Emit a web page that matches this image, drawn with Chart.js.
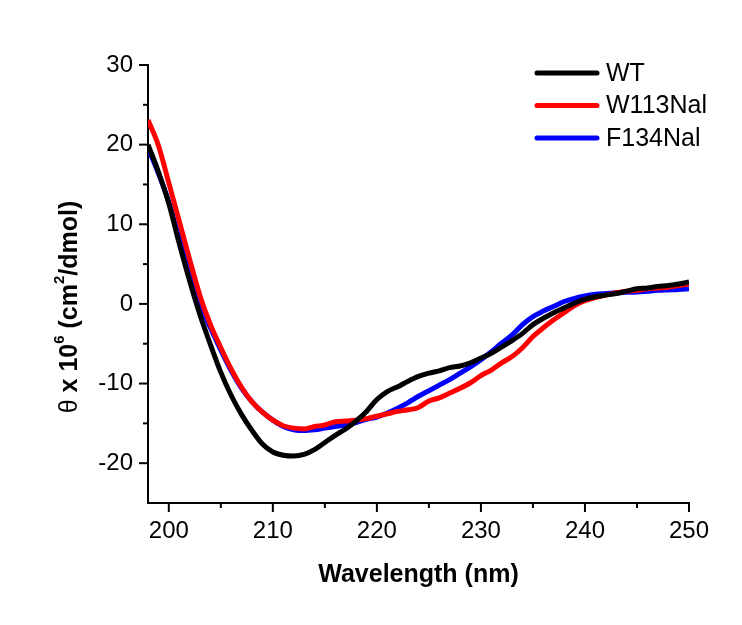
<!DOCTYPE html>
<html>
<head>
<meta charset="utf-8">
<script src="https://cdn.jsdelivr.net/npm/chart.js@4.4.1/dist/chart.umd.min.js"></script>
<style>
  body { margin: 0; background: #fff; }
  #wrap { width: 742px; height: 625px; }
</style>
</head>
<body>
<div id="wrap"><canvas id="grafica" width="742" height="625"></canvas></div>
<script>
// wavelength in nm, 1 nm steps
let wavelength = [];
for (let w = 198; w <= 250; w++) wavelength.push(w);

let seriesNames = ['WT', 'W113Nal', 'F134Nal'];

let wt = [20.0, 16.6, 12.6, 7.6, 2.9, -1.4, -5.1, -8.6, -11.5, -13.9,
  -15.9, -17.6, -18.6, -19.0, -19.1, -18.9, -18.3, -17.4, -16.5, -15.7,
  -14.7, -13.5, -12.0, -11.0, -10.4, -9.7, -9.1, -8.7, -8.4, -8.0,
  -7.8, -7.4, -6.8, -6.2, -5.4, -4.6, -3.7, -2.6, -1.8, -1.1,
  -0.5, 0.1, 0.6, 0.9, 1.1, 1.3, 1.6, 1.9, 2.0, 2.2,
  2.3, 2.5, 2.75];

let w113 = [23.1, 19.9, 15.2, 10.4, 5.6, 1.0, -2.6, -5.5, -8.2, -10.5,
  -12.3, -13.6, -14.6, -15.3, -15.6, -15.7, -15.4, -15.2, -14.8, -14.7,
  -14.6, -14.4, -14.1, -13.8, -13.5, -13.3, -13.0, -12.2, -11.8, -11.2,
  -10.6, -9.9, -9.0, -8.3, -7.4, -6.6, -5.5, -4.1, -3.0, -2.0,
  -1.1, -0.2, 0.4, 0.8, 1.1, 1.4, 1.6, 1.7, 1.9, 2.0,
  2.1, 2.3, 2.5];

let f134 = [19.6, 16.4, 12.8, 8.2, 3.9, 0.0, -3.0, -5.8, -8.4, -10.6,
  -12.3, -13.6, -14.6, -15.4, -15.8, -15.9, -15.8, -15.6, -15.4, -15.2,
  -14.9, -14.5, -14.2, -13.7, -13.1, -12.4, -11.6, -10.9, -10.2, -9.5,
  -8.7, -7.9, -7.0, -6.0, -4.9, -3.9, -2.6, -1.6, -0.9, -0.3,
  0.3, 0.7, 1.0, 1.2, 1.3, 1.4, 1.45, 1.5, 1.6, 1.7,
  1.75, 1.8, 1.9];

let xTicks = [200, 210, 220, 230, 240, 250];
let yTicks = [-20, -10, 0, 10, 20, 30];

let colores = ['#000000', '#ff0000', '#0000ff'];
let fuente = '"Liberation Sans", Arial, sans-serif';

function puntos(valores) {
  return wavelength.map((w, i) => ({ x: w, y: valores[i] }));
}

// major + minor ticks drawn outward from the axes
const marcas = {
  id: 'marcas',
  afterDraw(chart) {
    const ctx = chart.ctx;
    const xs = chart.scales.x, ys = chart.scales.y;
    ctx.save();
    ctx.strokeStyle = '#000';
    ctx.lineWidth = 2;
    const xv = xs.ticks.map(t => t.value);
    xv.forEach((v, i) => {
      let px = xs.getPixelForValue(v);
      ctx.beginPath(); ctx.moveTo(px, xs.top); ctx.lineTo(px, xs.top + 9); ctx.stroke();
      if (i < xv.length - 1) {
        px = xs.getPixelForValue((v + xv[i + 1]) / 2);
        ctx.beginPath(); ctx.moveTo(px, xs.top); ctx.lineTo(px, xs.top + 5); ctx.stroke();
      }
    });
    const yv = ys.ticks.map(t => t.value);
    yv.forEach((v, i) => {
      let py = ys.getPixelForValue(v);
      ctx.beginPath(); ctx.moveTo(ys.right, py); ctx.lineTo(ys.right - 9, py); ctx.stroke();
      if (i < yv.length - 1) {
        py = ys.getPixelForValue((v + yv[i + 1]) / 2);
        ctx.beginPath(); ctx.moveTo(ys.right, py); ctx.lineTo(ys.right - 5, py); ctx.stroke();
      }
    });
    ctx.restore();
  }
};

// y axis title with superscripts
const tituloY = {
  id: 'tituloY',
  afterDraw(chart) {
    const ctx = chart.ctx;
    const partes = [
      ['\u03b8', 25, 0, ''], [' x 10', 25, 0, 'bold '], ['6', 15, -10, 'bold '],
      [' (cm', 25, 0, 'bold '], ['2', 15, -10, 'bold '], ['/dmol)', 25, 0, 'bold ']
    ];
    ctx.save();
    ctx.translate(70, 307);
    ctx.rotate(-Math.PI / 2);
    ctx.fillStyle = '#000';
    ctx.textBaseline = 'middle';
    let total = 0;
    partes.forEach(p => { ctx.font = p[3] + p[1] + 'px ' + fuente; total += ctx.measureText(p[0]).width; });
    let x = -total / 2;
    partes.forEach(p => {
      ctx.font = p[3] + p[1] + 'px ' + fuente;
      ctx.fillText(p[0], x, p[2]);
      x += ctx.measureText(p[0]).width;
    });
    ctx.restore();
  }
};

// legend in the top right corner
const leyenda = {
  id: 'leyenda',
  afterDraw(chart) {
    const ctx = chart.ctx;
    ctx.save();
    ctx.font = '25px ' + fuente;
    ctx.textBaseline = 'middle';
    chart.data.datasets.forEach((ds, i) => {
      const y = 73 + i * 32.5;
      ctx.strokeStyle = ds.borderColor;
      ctx.lineWidth = 5;
      ctx.lineCap = 'round';
      ctx.beginPath(); ctx.moveTo(537, y); ctx.lineTo(597, y); ctx.stroke();
      ctx.fillStyle = '#000';
      ctx.fillText(ds.label, 606, y + 1);
    });
    ctx.restore();
  }
};

let grafica1 = document.getElementById('grafica').getContext('2d');
let chart = new Chart(grafica1, {
  type: 'line',
  data: {
    datasets: [
      { label: seriesNames[0], data: puntos(wt), borderColor: colores[0] },
      { label: seriesNames[1], data: puntos(w113), borderColor: colores[1] },
      { label: seriesNames[2], data: puntos(f134), borderColor: colores[2] }
    ].map(d => Object.assign(d, { borderWidth: 5, pointRadius: 0, cubicInterpolationMode: 'monotone', fill: false }))
  },
  options: {
    responsive: false,
    animation: false,
    layout: { padding: { left: 0, top: 65, right: 53, bottom: 0 } },
    plugins: { legend: { display: false }, tooltip: { enabled: false } },
    scales: {
      x: {
        type: 'linear', min: 198, max: 250,
        afterBuildTicks: s => { s.ticks = xTicks.map(v => ({ value: v })); },
        afterFit: s => { s.height = 122; },
        grid: { display: true, drawOnChartArea: false, drawTicks: false },
        border: { color: '#000', width: 2 },
        ticks: { color: '#000', padding: 14, maxRotation: 0, font: { family: fuente, size: 24 } },
        title: { display: true, text: 'Wavelength (nm)', color: '#000',
          font: { family: fuente, size: 25, weight: 'bold' }, padding: { top: 0, bottom: 35 } }
      },
      y: {
        type: 'linear', min: -25, max: 30,
        afterBuildTicks: s => { s.ticks = yTicks.map(v => ({ value: v })); },
        afterFit: s => { s.width = 148; },
        grid: { display: true, drawOnChartArea: false, drawTicks: false },
        border: { color: '#000', width: 2 },
        ticks: { color: '#000', padding: 15, font: { family: fuente, size: 24 } }
      }
    }
  },
  plugins: [marcas, tituloY, leyenda]
});
</script>
</body>
</html>
